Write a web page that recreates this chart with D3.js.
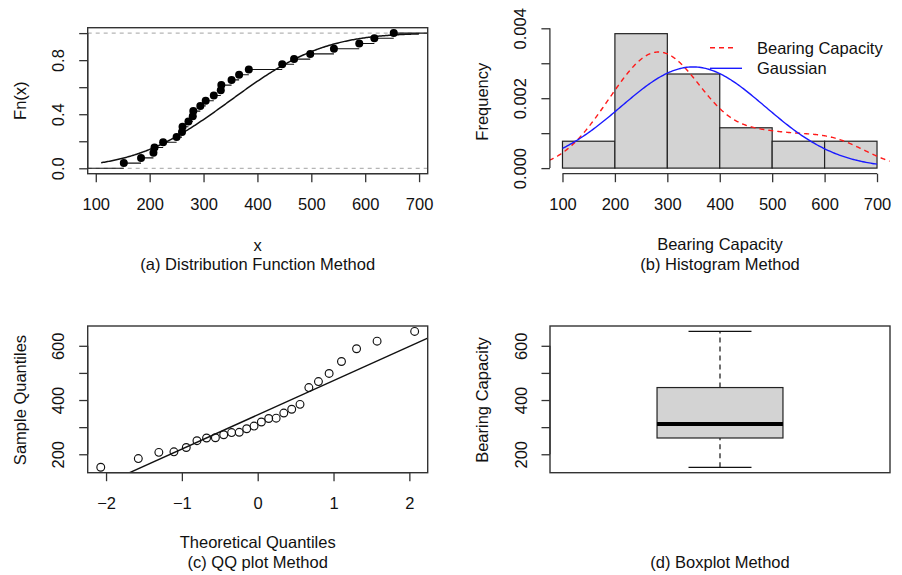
<!DOCTYPE html>
<html lang="en">
<head>
<meta charset="utf-8">
<title>Bearing Capacity</title>
<script src="https://d3js.org/d3.v7.min.js"></script>
<style>
  body { margin: 0; background: #fff; }
  text { font-family: "Liberation Sans", Arial, sans-serif; font-size: 16.5px; fill: #111; }
</style>
</head>
<body>
<svg width="902" height="575"></svg>
<script>
  // bearing capacity samples
  var bearing = [152, 184, 207, 209, 225, 250, 260, 261, 272, 280, 281, 294, 304,
                 319, 332, 333, 352, 366, 384, 446, 468, 498, 542, 589, 617, 653];
  var histBreaks = [100, 200, 300, 400, 500, 600, 700];

  var ticksA_x = [100, 200, 300, 400, 500, 600, 700];
  var ticksA_y = [0, 0.2, 0.4, 0.6, 0.8, 1];
  var labelsA_y = ["0.0", "", "0.4", "", "0.8", ""];
  var ticksB_y = [0, 0.001, 0.002, 0.003, 0.004];
  var labelsB_y = ["0.000", "", "0.002", "", "0.004"];
  var ticksC_x = [-2, -1, 0, 1, 2];
  var labelsC_x = ["\u22122", "\u22121", "0", "1", "2"];
  var ticksQ_y = [200, 300, 400, 500, 600];
  var labelsQ_y = ["200", "", "400", "", "600"];
  var legendLabels = ["Bearing Capacity", "Gaussian"];

  var svg = d3.select("svg");
  var ink = "#333";

  var n = bearing.length;
  var mean = d3.mean(bearing), sd = d3.deviation(bearing);

  // normal helpers
  function dnorm(x, m, s) { var z = (x - m) / s; return Math.exp(-z * z / 2) / (s * Math.sqrt(2 * Math.PI)); }
  function erf(x) {
    var t = 1 / (1 + 0.3275911 * Math.abs(x));
    var y = 1 - (((((1.061405429 * t - 1.453152027) * t) + 1.421413741) * t - 0.284496736) * t + 0.254829592) * t * Math.exp(-x * x);
    return x >= 0 ? y : -y;
  }
  function pnorm(x, m, s) { return 0.5 * (1 + erf((x - m) / (s * Math.SQRT2))); }
  function qnorm(p) {
    // Acklam's approximation
    var a = [-39.69683028665376, 220.9460984245205, -275.9285104469687, 138.3577518672690, -30.66479806614716, 2.506628277459239];
    var b = [-54.47609879822406, 161.5858368580409, -155.6989798598866, 66.80131188771972, -13.28068155288572];
    var c = [-0.007784894002430293, -0.3223964580411365, -2.400758277161838, -2.549732539343734, 4.374664141464968, 2.938163982698783];
    var d = [0.007784695709041462, 0.3224671290700398, 2.445134137142996, 3.754408661907416];
    var q, r;
    if (p < 0.02425) {
      q = Math.sqrt(-2 * Math.log(p));
      return (((((c[0]*q+c[1])*q+c[2])*q+c[3])*q+c[4])*q+c[5]) / ((((d[0]*q+d[1])*q+d[2])*q+d[3])*q+1);
    } else if (p > 1 - 0.02425) {
      q = Math.sqrt(-2 * Math.log(1 - p));
      return -(((((c[0]*q+c[1])*q+c[2])*q+c[3])*q+c[4])*q+c[5]) / ((((d[0]*q+d[1])*q+d[2])*q+d[3])*q+1);
    }
    q = p - 0.5; r = q * q;
    return (((((a[0]*r+a[1])*r+a[2])*r+a[3])*r+a[4])*r+a[5])*q / (((((b[0]*r+b[1])*r+b[2])*r+b[3])*r+b[4])*r+1);
  }

  // R style axes: ticks outward, axis line only between first and last tick
  function axisBottom(scale, y, ticks, labels, labelY) {
    var ax = svg.append("g").attr("transform", "translate(0," + y + ")").attr("color", ink)
      .call(d3.axisBottom(scale).tickValues(ticks).tickSize(8.5).tickFormat(function(d, i) { return labels[i]; }));
    ax.select(".domain").remove();
    ax.append("line").attr("x1", scale(ticks[0])).attr("x2", scale(ticks[ticks.length - 1]))
      .attr("stroke", ink).attr("stroke-width", 1.3);
    ax.selectAll(".tick line").attr("stroke-width", 1.3);
    ax.selectAll(".tick text").attr("y", labelY).attr("dy", 0);
  }
  function axisLeft(scale, x, ticks, labels) {
    var ax = svg.append("g").attr("transform", "translate(" + x + ",0)").attr("color", ink)
      .call(d3.axisLeft(scale).tickValues(ticks).tickSize(8.5).tickFormat(function(d, i) { return labels[i]; }));
    ax.select(".domain").remove();
    ax.append("line").attr("y1", scale(ticks[0])).attr("y2", scale(ticks[ticks.length - 1]))
      .attr("stroke", ink).attr("stroke-width", 1.3);
    ax.selectAll(".tick line").attr("stroke-width", 1.3);
    ax.selectAll(".tick text").attr("x", 0).attr("y", -23.5).attr("dy", 0)
      .attr("text-anchor", "middle").attr("transform", "rotate(-90)");
  }
  function box(l, r, t, b) {
    svg.append("rect").attr("x", l).attr("y", t).attr("width", r - l).attr("height", b - t)
      .attr("fill", "none").attr("stroke", ink).attr("stroke-width", 1.4);
  }
  function clip(id, l, r, t, b) {
    svg.append("clipPath").attr("id", id).append("rect")
      .attr("x", l).attr("y", t).attr("width", r - l).attr("height", b - t);
  }
  function label(x, y, txt, rot) {
    var t = svg.append("text").attr("text-anchor", "middle").text(txt);
    if (rot) t.attr("transform", "translate(" + x + "," + y + ") rotate(-90)");
    else t.attr("x", x).attr("y", y);
  }

  // ---------- (a) Distribution Function Method ----------
  var A = {l: 87.7, r: 427.7, t: 27.7, b: 173.7};
  var xA = d3.scaleLinear().domain([85, 716]).range([A.l, A.r]);
  var yA = d3.scaleLinear().domain([-0.04, 1.04]).range([A.b, A.t]);
  clip("clipA", A.l, A.r, A.t, A.b);
  var gA = svg.append("g").attr("clip-path", "url(#clipA)");

  [0, 1].forEach(function(v) {
    gA.append("line").attr("x1", A.l).attr("x2", A.r).attr("y1", yA(v)).attr("y2", yA(v))
      .attr("stroke", "#b5b5b5").attr("stroke-width", 1.2).attr("stroke-dasharray", "4,4");
  });

  var sorted = bearing.slice().sort(d3.ascending);
  var stepEdges = [xA.invert(A.l) - 50].concat(sorted).concat([xA.invert(A.r) + 50]);
  gA.append("g").selectAll("line").data(d3.range(n + 1)).enter().append("line")
    .attr("x1", function(i) { return xA(stepEdges[i]); })
    .attr("x2", function(i) { return xA(stepEdges[i + 1]); })
    .attr("y1", function(i) { return yA(i / n); })
    .attr("y2", function(i) { return yA(i / n); })
    .attr("stroke", "#111").attr("stroke-width", 1.1);

  var cdfX = d3.range(110, 700.1, 2);
  gA.append("path").datum(cdfX)
    .attr("d", d3.line().x(function(d) { return xA(d); }).y(function(d) { return yA(pnorm(d, mean, sd)); }))
    .attr("fill", "none").attr("stroke", "#111").attr("stroke-width", 1.5);

  gA.append("g").selectAll("circle").data(sorted).enter().append("circle")
    .attr("cx", function(d) { return xA(d); })
    .attr("cy", function(d, i) { return yA((i + 1) / n); })
    .attr("r", 4).attr("fill", "#000");

  box(A.l, A.r, A.t, A.b);
  axisBottom(xA, A.b, ticksA_x, ticksA_x.map(String), 36);
  axisLeft(yA, A.l, ticksA_y, labelsA_y);
  label(257.7, 251, "x");
  label(257.7, 270, "(a) Distribution Function Method");
  label(25.5, 100.7, "Fn(x)", true);

  // ---------- (b) Histogram Method ----------
  var B = {l: 549.9, r: 889.6, t: 22.7, b: 173.7};
  var xB = d3.scaleLinear().domain([76, 724]).range([B.l, B.r]);
  var yB = d3.scaleLinear().domain([-0.00016, 0.00416]).range([B.b, B.t]);
  var bins = d3.bin().domain([histBreaks[0], histBreaks[histBreaks.length - 1]]).thresholds(histBreaks)(bearing);

  svg.append("g").selectAll("rect").data(bins).enter().append("rect")
    .attr("x", function(d) { return xB(d.x0); })
    .attr("width", function(d) { return xB(d.x1) - xB(d.x0); })
    .attr("y", function(d) { return yB(d.length / (n * (d.x1 - d.x0))); })
    .attr("height", function(d) { return yB(0) - yB(d.length / (n * (d.x1 - d.x0))); })
    .attr("fill", "#d3d3d3").attr("stroke", "#222").attr("stroke-width", 1.2);

  clip("clipB", B.l, B.r, B.t, B.b);
  var gB = svg.append("g").attr("clip-path", "url(#clipB)");

  // kernel density, R default bandwidth (nrd0)
  var iqr = d3.quantile(sorted, 0.75) - d3.quantile(sorted, 0.25);
  var bw = 0.9 * Math.min(sd, iqr / 1.34) * Math.pow(n, -0.2);
  var kdeX = d3.range(0, 512).map(function(i) {
    return sorted[0] - 3 * bw + i * (sorted[n - 1] - sorted[0] + 6 * bw) / 511;
  });
  var kde = kdeX.map(function(x) { return [x, d3.mean(bearing, function(v) { return dnorm(x, v, bw); })]; });
  gB.append("path").datum(kde)
    .attr("d", d3.line().x(function(d) { return xB(d[0]); }).y(function(d) { return yB(d[1]); }))
    .attr("fill", "none").attr("stroke", "#ff1a1a").attr("stroke-width", 1.4).attr("stroke-dasharray", "5,4");

  var gaussX = d3.range(100, 700.1, 3);
  gB.append("path").datum(gaussX)
    .attr("d", d3.line().x(function(d) { return xB(d); }).y(function(d) { return yB(dnorm(d, mean, sd)); }))
    .attr("fill", "none").attr("stroke", "#1a1aff").attr("stroke-width", 1.4);

  axisBottom(xB, B.b, histBreaks, histBreaks.map(String), 36);
  axisLeft(yB, B.l, ticksB_y, labelsB_y);
  label(720, 250, "Bearing Capacity");
  label(720, 270, "(b) Histogram Method");
  label(487.5, 101.7, "Frequency", true);

  var legend = svg.append("g");
  [{c: "#ff1a1a", dash: "5,4", y: 47.7, x2: 737}, {c: "#1a1aff", dash: null, y: 68.3, x2: 742}].forEach(function(s, i) {
    legend.append("line").attr("x1", 710).attr("x2", s.x2).attr("y1", s.y).attr("y2", s.y)
      .attr("stroke", s.c).attr("stroke-width", 1.4).attr("stroke-dasharray", s.dash);
    legend.append("text").attr("x", 757).attr("y", s.y + 6).text(legendLabels[i]);
  });

  // ---------- (c) QQ plot Method ----------
  var C = {l: 87.7, r: 427.7, t: 326, b: 472.7};
  var xC = d3.scaleLinear().domain([-2.242, 2.242]).range([C.l, C.r]);
  var yC = d3.scaleLinear().domain([132, 673]).range([C.b, C.t]);
  var theo = sorted.map(function(d, i) { return qnorm((i + 0.5) / n); });

  clip("clipC", C.l, C.r, C.t, C.b);
  var gC = svg.append("g").attr("clip-path", "url(#clipC)");
  var q1 = d3.quantile(sorted, 0.25), q3 = d3.quantile(sorted, 0.75);
  var slope = (q3 - q1) / (qnorm(0.75) - qnorm(0.25));
  var icpt = q1 - slope * qnorm(0.25);
  gC.append("line")
    .attr("x1", xC(-2.242)).attr("y1", yC(icpt + slope * -2.242))
    .attr("x2", xC(2.242)).attr("y2", yC(icpt + slope * 2.242))
    .attr("stroke", "#111").attr("stroke-width", 1.4);

  svg.append("g").selectAll("circle").data(sorted).enter().append("circle")
    .attr("cx", function(d, i) { return xC(theo[i]); })
    .attr("cy", function(d) { return yC(d); })
    .attr("r", 3.9).attr("fill", "none").attr("stroke", "#111").attr("stroke-width", 1.15);

  box(C.l, C.r, C.t, C.b);
  axisBottom(xC, C.b, ticksC_x, labelsC_x, 36);
  axisLeft(yC, C.l, ticksQ_y, labelsQ_y);
  label(257.7, 548, "Theoretical Quantiles");
  label(257.7, 568, "(c) QQ plot Method");
  label(25.5, 400, "Sample Quantiles", true);

  // ---------- (d) Boxplot Method ----------
  var D = {l: 550, r: 890, t: 326, b: 472.7};
  var xD = d3.scaleLinear().domain([0.46, 1.54]).range([D.l, D.r]);
  var yD = d3.scaleLinear().domain([132, 673]).range([D.b, D.t]);
  var med = d3.median(sorted);
  var lowHalf = sorted.slice(0, Math.ceil(n / 2)), highHalf = sorted.slice(Math.floor(n / 2));
  var hinge1 = d3.median(lowHalf), hinge2 = d3.median(highHalf);
  var lo = sorted[0], hi = sorted[n - 1];

  var gD = svg.append("g");
  [[lo, hinge1], [hinge2, hi]].forEach(function(w) {
    gD.append("line").attr("x1", xD(1)).attr("x2", xD(1)).attr("y1", yD(w[0])).attr("y2", yD(w[1]))
      .attr("stroke", "#111").attr("stroke-width", 1.2).attr("stroke-dasharray", "5,4");
  });
  [lo, hi].forEach(function(v) {
    gD.append("line").attr("x1", xD(0.9)).attr("x2", xD(1.1)).attr("y1", yD(v)).attr("y2", yD(v))
      .attr("stroke", "#111").attr("stroke-width", 1.2);
  });
  gD.append("rect").attr("x", xD(0.8)).attr("width", xD(1.2) - xD(0.8))
    .attr("y", yD(hinge2)).attr("height", yD(hinge1) - yD(hinge2))
    .attr("fill", "#d3d3d3").attr("stroke", "#222").attr("stroke-width", 1.2);
  gD.append("line").attr("x1", xD(0.8)).attr("x2", xD(1.2)).attr("y1", yD(med)).attr("y2", yD(med))
    .attr("stroke", "#000").attr("stroke-width", 4);

  box(D.l, D.r, D.t, D.b);
  axisLeft(yD, D.l, ticksQ_y, labelsQ_y);
  label(720, 568, "(d) Boxplot Method");
  label(487.5, 400, "Bearing Capacity", true);
</script>
</body>
</html>
